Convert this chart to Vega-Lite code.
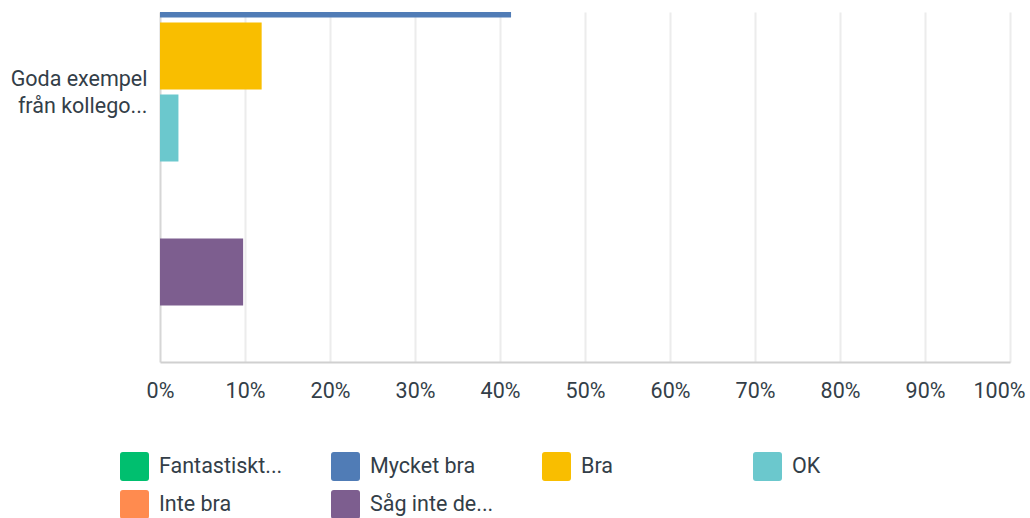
{
  "$schema": "https://vega.github.io/schema/vega-lite/v6.json",
  "autosize": "none",
  "width": 850,
  "height": 350,
  "padding": {"left": 160, "top": 12, "right": 20, "bottom": 156},
  "background": "white",
  "config": {
    "view": {"stroke": null},
    "font": "Roboto"
  },
  "data": {
    "values": [
      {"question": "Goda exempel från kollego...", "answer": "Fantastiskt...", "share": 0.3478},
      {"question": "Goda exempel från kollego...", "answer": "Mycket bra", "share": 0.4130},
      {"question": "Goda exempel från kollego...", "answer": "Bra", "share": 0.1196},
      {"question": "Goda exempel från kollego...", "answer": "OK", "share": 0.0217},
      {"question": "Goda exempel från kollego...", "answer": "Inte bra", "share": 0},
      {"question": "Goda exempel från kollego...", "answer": "Såg inte de...", "share": 0.0978}
    ]
  },
  "mark": {"type": "bar", "clip": true},
  "encoding": {
    "y": {
      "field": "question",
      "type": "nominal",
      "scale": {"paddingInner": 0, "paddingOuter": 0},
      "axis": {
        "title": null,
        "domain": false,
        "ticks": false,
        "labelPadding": 13,
        "labelFontSize": 21.5,
        "labelColor": "#333e48",
        "labelLineHeight": 26.5,
        "labelAlign": "right",
        "labelBaseline": "middle",
        "labelOffset": -107,
        "labelLimit": 300,
        "labelExpr": "[slice(datum.label, 0, 12), slice(datum.label, 13)]"
      }
    },
    "yOffset": {
      "field": "answer",
      "type": "nominal",
      "sort": ["Fantastiskt...", "Mycket bra", "Bra", "OK", "Inte bra", "Såg inte de..."],
      "scale": {"range": [-133.5, 293.5], "paddingInner": 0.0694, "paddingOuter": 0}
    },
    "x": {
      "field": "share",
      "type": "quantitative",
      "scale": {"domain": [0, 1]},
      "axis": {
        "title": null,
        "format": ".0%",
        "values": [0, 0.1, 0.2, 0.3, 0.4, 0.5, 0.6, 0.7, 0.8, 0.9, 1],
        "grid": true,
        "gridColor": {"condition": {"test": "datum.value === 0", "value": "#d6d6d6"}, "value": "#ececec"},
        "gridWidth": 2,
        "domainColor": "#d0d0d0",
        "domainWidth": 2,
        "ticks": false,
        "labelPadding": 18,
        "labelFontSize": 21.5,
        "labelColor": "#333e48",
        "labelFlush": false,
        "labelOverlap": false,
        "labelOffset": {"condition": {"test": "datum.value === 1", "value": -11}, "value": 0}
      }
    },
    "color": {
      "field": "answer",
      "type": "nominal",
      "scale": {
        "domain": ["Fantastiskt...", "Mycket bra", "Bra", "OK", "Inte bra", "Såg inte de..."],
        "range": ["#00bf6f", "#507cb6", "#f9be00", "#6bc8cd", "#ff8b4f", "#7d5e8f"]
      },
      "legend": {
        "title": null,
        "orient": "none",
        "legendX": -40,
        "legendY": 440,
        "direction": "horizontal",
        "columns": 4,
        "gridAlign": "all",
        "padding": 0,
        "symbolType": "M-0.8,-1H0.8Q1,-1,1,-0.8V0.8Q1,1,0.8,1H-0.8Q-1,1,-1,0.8V-0.8Q-1,-1,-0.8,-1Z",
        "symbolSize": 841,
        "symbolStrokeWidth": 0,
        "symbolOpacity": 1,
        "labelFontSize": 21.5,
        "labelColor": "#333e48",
        "labelOffset": 10,
        "labelLimit": 300,
        "columnPadding": 48,
        "rowPadding": 9
      }
    }
  }
}
